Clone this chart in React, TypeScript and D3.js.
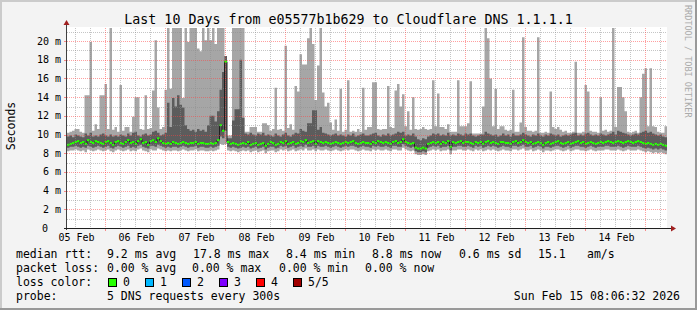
import React from 'react';
import * as d3 from 'd3';

// ---- data (hourly samples, ms) ----
const hi = [
  10.2, 10.3, 10.4, 10.6, 10.6, 10.3, 10.2, 14.2, 14.2, 19.9, 10.4, 11.1, 10.6, 14.2, 14.2, 15.4, 10.6, 21.4, 10.5, 10.8,
  10.3, 15.3, 10.4, 10.8, 10.8, 10.3, 11.9, 14.0, 14.0, 10.6, 10.5, 14.2, 10.6, 10.7, 14.7, 20.1, 12.9, 10.6, 10.8, 14.8,
  21.4, 14.9, 21.4, 21.4, 21.4, 21.4, 13.9, 21.4, 19.9, 21.4, 21.4, 21.4, 19.2, 18.9, 21.4, 20.1, 21.4, 20.1, 21.4, 19.7,
  21.4, 21.4, 21.4, 18.4, 9.9, 9.9, 21.4, 21.4, 21.4, 21.4, 21.4, 10.3, 10.3, 10.8, 10.8, 10.8, 10.3, 10.3, 11.2, 11.2,
  11.0, 10.4, 10.6, 15.0, 10.5, 10.6, 10.4, 19.5, 10.7, 11.1, 10.5, 15.2, 14.6, 18.6, 17.5, 17.5, 20.3, 21.4, 19.7, 13.7,
  17.4, 21.4, 14.5, 13.0, 13.4, 11.3, 10.5, 11.6, 10.4, 14.9, 10.3, 10.5, 15.8, 10.3, 10.4, 10.3, 10.6, 10.3, 15.0, 10.5,
  10.8, 10.8, 15.6, 15.6, 10.6, 10.5, 10.6, 10.6, 15.2, 10.8, 10.7, 14.7, 15.4, 13.0, 14.3, 10.9, 12.5, 10.5, 14.0, 10.6,
  10.5, 10.6, 10.8, 10.6, 10.5, 10.6, 15.8, 10.9, 14.4, 10.8, 10.8, 10.6, 11.1, 10.3, 10.3, 10.3, 15.8, 10.9, 10.9, 10.9,
  11.2, 15.7, 10.1, 10.1, 10.1, 10.1, 13.0, 21.4, 20.3, 16.0, 10.9, 14.9, 10.6, 10.9, 10.9, 10.5, 10.4, 10.5, 14.8, 10.3,
  10.3, 11.3, 20.4, 10.8, 10.4, 10.4, 10.3, 10.4, 20.4, 10.2, 10.2, 10.3, 10.2, 14.6, 10.8, 10.6, 10.8, 10.5, 10.3, 10.4,
  10.2, 10.2, 10.3, 17.8, 10.2, 10.2, 10.3, 15.3, 14.6, 10.4, 10.3, 10.3, 10.2, 14.0, 10.4, 10.5, 10.3, 10.4, 21.4, 10.8,
  15.1, 15.1, 14.0, 12.5, 10.3, 10.2, 10.3, 10.4, 10.2, 14.0, 16.5, 17.1, 10.9, 17.1, 10.9, 10.8, 10.3, 10.2, 10.2, 10.9,
];
const q3 = [
  9.8, 9.9, 9.7, 10.0, 9.9, 9.8, 9.7, 10.1, 9.9, 10.2, 9.8, 9.9, 9.8, 10.0, 10.1, 9.9, 9.8, 10.0, 9.8, 9.9,
  9.8, 10.0, 9.9, 9.8, 10.1, 9.9, 10.2, 10.3, 9.9, 9.8, 10.0, 10.1, 9.9, 10.0, 10.3, 10.4, 10.2, 9.9, 10.0, 10.2,
  13.4, 10.8, 13.9, 13.0, 14.2, 13.2, 12.9, 11.0, 10.6, 10.4, 10.5, 10.3, 10.6, 10.4, 10.5, 10.3, 11.0, 12.0, 12.0, 11.4,
  12.5, 14.8, 16.7, 18.4, 9.6, 9.6, 11.5, 12.7, 12.7, 18.0, 11.8, 10.1, 10.0, 10.2, 10.0, 9.9, 10.1, 10.0, 10.2, 9.9,
  10.0, 9.9, 9.8, 10.1, 9.9, 9.8, 10.0, 10.2, 9.9, 9.8, 10.0, 10.2, 10.1, 10.6, 10.4, 10.3, 11.2, 11.2, 12.6, 12.6,
  10.5, 10.8, 10.2, 10.1, 10.0, 9.9, 10.0, 10.1, 9.9, 10.0, 9.9, 9.8, 10.0, 9.9, 10.1, 9.8, 9.9, 10.0, 10.1, 9.9,
  9.9, 10.0, 10.1, 10.2, 9.9, 9.8, 10.0, 9.9, 10.1, 9.9, 10.0, 10.1, 10.3, 10.2, 10.3, 9.9, 10.0, 9.9, 10.1, 9.8,
  9.5, 9.4, 9.6, 9.5, 9.8, 9.9, 10.1, 10.0, 10.1, 9.9, 10.0, 9.9, 10.2, 9.9, 10.0, 9.9, 10.1, 10.0, 9.9, 10.1,
  10.0, 10.1, 9.9, 9.8, 9.9, 10.0, 10.0, 10.3, 10.1, 10.0, 9.9, 10.0, 9.8, 9.9, 10.1, 9.9, 10.0, 9.8, 10.1, 9.9,
  9.9, 10.0, 10.2, 10.0, 9.9, 9.8, 10.0, 9.9, 10.1, 9.9, 9.8, 10.0, 9.9, 10.1, 10.0, 9.9, 10.0, 9.8, 9.9, 10.0,
  9.9, 10.0, 10.1, 10.2, 9.9, 10.0, 9.9, 10.1, 10.2, 10.0, 9.9, 10.0, 9.9, 10.1, 10.0, 9.9, 10.0, 10.1, 10.3, 10.0,
  10.4, 10.3, 10.2, 10.1, 10.0, 9.9, 10.0, 10.1, 10.0, 10.2, 10.3, 10.4, 10.2, 10.3, 10.1, 10.0, 9.9, 10.0, 9.8, 9.7,
];
const med = [
  8.9, 9.0, 9.1, 9.2, 9.3, 9.1, 9.2, 9.0, 9.4, 9.2, 9.1, 9.3, 9.2, 9.1, 9.0, 9.2, 9.3, 9.1, 8.9, 9.2,
  9.3, 9.1, 9.0, 9.2, 9.4, 9.1, 9.2, 9.0, 9.3, 9.5, 9.1, 9.2, 8.9, 9.3, 9.4, 9.2, 9.6, 9.3, 9.1, 9.0,
  9.1, 9.0, 9.2, 9.1, 9.0, 9.1, 9.2, 9.1, 9.0, 9.1, 9.1, 9.2, 9.0, 9.1, 9.1, 9.0, 9.0, 9.1, 9.0, 9.1,
  9.4, 11.0, 10.4, 17.8, 9.2, 9.0, 9.1, 9.0, 8.9, 9.0, 9.1, 9.0, 9.2, 8.9, 9.0, 9.1, 8.9, 9.0, 9.1, 8.8,
  9.0, 9.2, 9.1, 8.9, 9.0, 9.2, 9.1, 9.3, 9.0, 9.1, 9.2, 9.0, 9.1, 9.3, 9.2, 9.4, 9.1, 9.2, 9.3, 9.0,
  9.3, 9.2, 9.1, 9.2, 9.1, 9.0, 9.1, 9.2, 9.1, 9.0, 9.1, 9.2, 9.1, 9.2, 9.3, 9.1, 9.0, 9.1, 9.2, 9.1,
  9.1, 9.0, 9.2, 9.1, 9.3, 9.2, 9.1, 9.2, 9.1, 9.0, 9.2, 9.3, 9.1, 9.2, 9.5, 9.2, 9.1, 9.0, 9.1, 8.6,
  8.5, 8.5, 8.6, 8.5, 9.0, 9.1, 9.2, 9.1, 9.2, 9.0, 9.2, 9.1, 9.3, 8.7, 9.2, 9.1, 9.2, 9.3, 9.1, 9.2,
  9.2, 9.1, 9.0, 9.2, 9.1, 9.2, 9.0, 9.2, 9.3, 9.1, 9.2, 9.1, 9.0, 9.2, 9.2, 9.1, 9.1, 9.0, 9.2, 9.3,
  9.1, 9.2, 9.4, 9.2, 9.1, 9.2, 9.0, 9.1, 9.2, 9.1, 8.9, 9.1, 9.2, 9.0, 9.1, 9.2, 9.3, 9.1, 9.0, 9.1,
  9.2, 9.0, 9.1, 9.2, 9.3, 9.1, 9.2, 9.0, 9.1, 9.2, 9.1, 9.0, 9.1, 9.2, 9.1, 9.2, 9.3, 9.2, 9.1, 9.2,
  9.3, 9.2, 9.1, 9.2, 9.3, 9.2, 9.1, 9.2, 9.3, 9.2, 9.1, 9.0, 9.1, 9.0, 8.9, 9.0, 8.9, 9.0, 8.9, 8.8,
];
const q1 = [
  8.6, 8.7, 8.7, 8.8, 8.7, 8.6, 8.7, 8.6, 8.8, 8.7, 8.6, 8.7, 8.8, 8.7, 8.6, 8.7, 8.8, 8.6, 8.5, 8.7,
  8.8, 8.7, 8.6, 8.7, 8.8, 8.6, 8.7, 8.6, 8.8, 8.9, 8.7, 8.6, 8.5, 8.8, 8.8, 8.7, 8.9, 8.8, 8.7, 8.6,
  8.7, 8.6, 8.7, 8.7, 8.6, 8.7, 8.8, 8.7, 8.6, 8.7, 8.7, 8.8, 8.6, 8.7, 8.7, 8.6, 8.6, 8.7, 8.6, 8.7,
  8.8, 9.8, 9.6, 10.4, 8.7, 8.6, 8.7, 8.6, 8.5, 8.6, 8.7, 8.6, 8.7, 8.5, 8.6, 8.7, 8.5, 8.6, 8.7, 8.4,
  8.6, 8.7, 8.7, 8.5, 8.6, 8.8, 8.7, 8.8, 8.6, 8.7, 8.8, 8.6, 8.7, 8.8, 8.7, 8.9, 8.7, 8.7, 8.8, 8.6,
  8.8, 8.7, 8.7, 8.8, 8.7, 8.6, 8.7, 8.8, 8.7, 8.6, 8.7, 8.8, 8.7, 8.8, 8.8, 8.7, 8.6, 8.7, 8.8, 8.7,
  8.7, 8.6, 8.8, 8.7, 8.8, 8.7, 8.7, 8.8, 8.7, 8.6, 8.8, 8.8, 8.7, 8.7, 9.0, 8.8, 8.7, 8.6, 8.7, 8.2,
  8.1, 8.1, 8.2, 8.1, 8.6, 8.7, 8.8, 8.7, 8.8, 8.6, 8.7, 8.7, 8.8, 8.3, 8.7, 8.7, 8.8, 8.8, 8.7, 8.7,
  8.8, 8.7, 8.6, 8.8, 8.7, 8.8, 8.6, 8.7, 8.8, 8.7, 8.8, 8.7, 8.6, 8.7, 8.8, 8.7, 8.7, 8.6, 8.8, 8.8,
  8.7, 8.8, 8.9, 8.7, 8.7, 8.8, 8.6, 8.7, 8.8, 8.7, 8.5, 8.7, 8.7, 8.6, 8.7, 8.8, 8.8, 8.7, 8.6, 8.7,
  8.8, 8.6, 8.7, 8.8, 8.8, 8.7, 8.7, 8.6, 8.7, 8.8, 8.7, 8.6, 8.7, 8.7, 8.7, 8.8, 8.8, 8.7, 8.7, 8.7,
  8.8, 8.7, 8.6, 8.7, 8.8, 8.7, 8.7, 8.7, 8.8, 8.7, 8.6, 8.5, 8.6, 8.5, 8.4, 8.5, 8.4, 8.5, 8.4, 8.3,
];
const lo = [
  8.2, 8.3, 8.3, 8.4, 8.3, 8.2, 8.3, 8.1, 8.4, 8.3, 8.2, 8.3, 8.4, 8.3, 8.2, 8.3, 8.4, 8.2, 8.1, 8.3,
  8.4, 8.3, 8.2, 8.3, 8.4, 8.2, 8.3, 8.2, 8.4, 8.5, 8.3, 8.2, 8.1, 8.4, 8.3, 8.3, 8.5, 8.4, 8.3, 8.2,
  8.3, 8.2, 8.3, 8.3, 8.2, 8.3, 8.4, 8.3, 8.2, 8.3, 8.3, 8.4, 8.2, 8.3, 8.3, 8.2, 8.2, 8.3, 8.2, 8.3,
  8.4, 9.0, 8.9, 9.0, 8.3, 8.2, 8.3, 8.2, 8.1, 8.2, 8.3, 8.2, 8.3, 8.1, 8.2, 8.3, 8.1, 8.2, 8.3, 8.0,
  8.2, 8.3, 8.3, 8.1, 8.2, 8.4, 8.3, 8.4, 8.2, 8.3, 8.4, 8.2, 8.3, 8.4, 8.3, 8.5, 8.3, 8.3, 8.4, 8.2,
  8.4, 8.3, 8.3, 8.4, 8.3, 8.2, 8.3, 8.4, 8.3, 8.2, 8.3, 8.4, 8.3, 8.4, 8.4, 8.3, 8.2, 8.3, 8.4, 8.3,
  8.3, 8.2, 8.4, 8.3, 8.4, 8.3, 8.3, 8.4, 8.3, 8.2, 8.4, 8.4, 8.3, 8.3, 8.6, 8.4, 8.3, 8.2, 8.3, 7.9,
  7.8, 7.8, 7.9, 7.8, 8.2, 8.3, 8.4, 8.3, 8.4, 8.2, 8.3, 8.3, 8.4, 7.9, 8.3, 8.3, 8.4, 8.4, 8.3, 8.3,
  8.4, 8.3, 8.2, 8.4, 8.3, 8.4, 8.2, 8.3, 8.4, 8.3, 8.4, 8.3, 8.2, 8.3, 8.4, 8.3, 8.3, 8.2, 8.4, 8.4,
  8.3, 8.4, 8.5, 8.3, 8.3, 8.4, 8.2, 8.3, 8.4, 8.3, 8.1, 8.3, 8.3, 8.2, 8.3, 8.4, 8.4, 8.3, 8.2, 8.3,
  8.4, 8.2, 8.3, 8.4, 8.4, 8.3, 8.3, 8.2, 8.3, 8.4, 8.3, 8.2, 8.3, 8.3, 8.3, 8.4, 8.4, 8.3, 8.3, 8.3,
  8.4, 8.3, 8.2, 8.3, 8.4, 8.3, 8.3, 8.3, 8.4, 8.3, 8.2, 8.1, 8.2, 8.1, 8.0, 8.1, 8.0, 8.1, 8.0, 7.9,
];

const yTickValues = [0, 2, 4, 6, 8, 10, 12, 14, 16, 18, 20];
const titleText = 'Last 10 Days from e05577b1b629 to Cloudflare DNS 1.1.1.1';
const rttLegend = ['median rtt:', '9.2 ms avg', '17.8 ms max', '8.4 ms min', '8.8 ms now', '0.6 ms sd', '15.1', 'am/s'];
const lossLegend = ['packet loss:', '0.00 % avg', '0.00 % max', '0.00 % min', '0.00 % now'];
const lossLabels = ['0', '1', '2', '3', '4', '5/5'];
const lossColors = ['#26ff00', '#00b8ff', '#0059ff', '#7e00ff', '#ff0000', '#a10000'];
const probeLegend = ['probe:', '5 DNS requests every 300s', 'Sun Feb 15 08:06:32 2026'];

const HOUR = 3600 * 1000;
const START = Date.UTC(2026, 1, 5, 8, 48, 0);

export default function App() {
  const W = 697, H = 310;
  const L = 67, R = 667, T = 28, B = 228;
  const n = hi.length;
  const x = d3.scaleUtc().domain([new Date(START), new Date(START + n * HOUR)]).range([L, R]);
  const y = d3.scaleLinear().domain([0, 21.4]).range([B, T]);

  const pts = hi.map((h, i) => ({ t: new Date(START + i * HOUR), hi: h, q3: q3[i], med: med[i], q1: q1[i], lo: lo[i] }));
  const ext = [...pts, { ...pts[n - 1], t: new Date(START + n * HOUR) }];

  const outer = d3.area<any>().curve(d3.curveStepAfter).x(d => x(d.t)).y0(d => y(d.lo)).y1(d => y(d.hi))(ext) || '';
  const inner = d3.area<any>().curve(d3.curveStepAfter).x(d => x(d.t)).y0(d => y(d.q1)).y1(d => y(d.q3))(ext) || '';
  const medLine = d3.line<any>().curve(d3.curveStepAfter).x(d => x(d.t)).y(d => y(d.med))(ext) || '';

  const domain = x.domain();
  const majors = d3.utcDay.range(domain[0], domain[1]);
  const minors = d3.utcHour.every(6)!.range(domain[0], domain[1]).filter(t => t.getUTCHours() !== 0);
  const labelDays = d3.utcDay.range(d3.utcDay.floor(domain[0]), domain[1]).map(d => new Date(+d + 12 * HOUR)).filter(d => d >= domain[0] && d < domain[1]);
  const fmt = d3.utcFormat('%d %b');

  const yMinor = d3.range(1, 22, 2);
  const yMajor = yTickValues.filter(v => v > 0);

  const rttX = [16, 107, 193, 286, 372, 459, 538, 587];
  const lossX = [16, 107, 192, 279, 365];
  const boxX = [108, 145, 182, 219, 256, 293];

  const mono = "'DejaVu Sans Mono', monospace";

  return (
    <svg width={W} height={H} style={{ position: 'absolute', left: 0, top: 0, display: 'block' }} fontFamily={mono}>
      <defs>
        <clipPath id="plotclip">
          <rect x={L} y={T} width={R - L} height={B - T} />
        </clipPath>
      </defs>
      <rect x={0} y={0} width={W} height={H} fill="#f3f3f3" />
      {/* 3D border */}
      <path d={`M0,0 H${W} V2 H2 V${H} H0 Z`} fill="#cbcbcb" />
      <path d={`M${W},0 V${H} H0 V${H - 2} H${W - 2} V0 Z`} fill="#999999" />

      {/* canvas */}
      <rect x={L} y={T - 1} width={R - L} height={B - T + 1} fill="#ffffff" />

      <g clipPath="url(#plotclip)">
        <path d={outer} fill="#a6a6a6" />
        <path d={inner} fill="#5c5c5c" />
        <path d={medLine} fill="none" stroke="#202020" strokeWidth={1} />
        {pts.map((d, i) => (
          <rect key={i} x={x(d.t)} y={y(d.med) - 1} width={x(new Date(+d.t + HOUR)) - x(d.t)} height={2} fill={lossColors[0]} />
        ))}
      </g>

      {/* grid */}
      <g shapeRendering="crispEdges" strokeDasharray="1,1" fill="none">
        {yMinor.map(v => (
          <line key={'ym' + v} x1={L} x2={R} y1={Math.round(y(v)) + 0.5} y2={Math.round(y(v)) + 0.5} stroke="rgba(140,140,140,0.5)" />
        ))}
        {minors.map(t => (
          <line key={'xm' + +t} x1={Math.round(x(t)) + 0.5} x2={Math.round(x(t)) + 0.5} y1={T} y2={B} stroke="rgba(140,140,140,0.5)" />
        ))}
        {yMajor.map(v => (
          <line key={'yM' + v} x1={L} x2={R} y1={Math.round(y(v)) + 0.5} y2={Math.round(y(v)) + 0.5} stroke="rgba(255,64,64,0.5)" />
        ))}
        {majors.map(t => (
          <line key={'xM' + +t} x1={Math.round(x(t)) + 0.5} x2={Math.round(x(t)) + 0.5} y1={T} y2={B} stroke="rgba(255,64,64,0.5)" />
        ))}
      </g>

      {/* ticks */}
      <g shapeRendering="crispEdges">
        {yMajor.map(v => (
          <line key={'yt' + v} x1={L - 3} x2={L} y1={Math.round(y(v)) + 0.5} y2={Math.round(y(v)) + 0.5} stroke="rgba(255,64,64,0.6)" />
        ))}
        {majors.map(t => (
          <line key={'xt' + +t} x1={Math.round(x(t)) + 0.5} x2={Math.round(x(t)) + 0.5} y1={B} y2={B + 3} stroke="rgba(255,64,64,0.6)" />
        ))}
      </g>

      {/* axes */}
      <g shapeRendering="crispEdges">
        <line x1={L - 0.5} x2={L - 0.5} y1={B + 2} y2={T - 5} stroke="#404040" />
        <line x1={L - 3} x2={R + 5} y1={B + 0.5} y2={B + 0.5} stroke="#202020" />
      </g>
      <path d={`M${L - 3.5},${T - 3} L${L - 0.5},${T - 8} L${L + 2.5},${T - 3} Z`} fill="#a02020" />
      <path d={`M${R + 4},${B - 2.5} L${R + 9},${B + 0.5} L${R + 4},${B + 3.5} Z`} fill="#a02020" />

      {/* y labels */}
      {yTickValues.map(v => (
        <text key={'yl' + v} x={v === 0 ? 48 : 61} y={y(v) + 3.5} fontSize={10} textAnchor="end" fill="#000">
          {v === 0 ? '0' : `${v} m`}
        </text>
      ))}
      {/* x labels */}
      {labelDays.map(t => (
        <text key={'xl' + +t} x={x(t) + 1.5} y={241} fontSize={10} textAnchor="middle" fill="#000">
          {fmt(t)}
        </text>
      ))}

      {/* titles */}
      <text x={348.5} y={24} fontSize={13.3} textAnchor="middle" fill="#000">{titleText}</text>
      <text transform={`translate(14.5,126) rotate(-90)`} fontSize={11.5} textAnchor="middle" fill="#000">Seconds</text>
      <text transform={`translate(685,5) rotate(90)`} fontSize={8.5} fill="#aaaaaa">RRDTOOL / TOBI OETIKER</text>

      {/* legend */}
      <g fontSize={11.5} fill="#000" style={{ whiteSpace: 'pre' }}>
        {rttLegend.map((s, i) => (
          <text key={'r' + i} x={rttX[i]} y={258}>{s}</text>
        ))}
        {lossLegend.map((s, i) => (
          <text key={'l' + i} x={lossX[i]} y={272}>{s}</text>
        ))}
        <text x={16} y={286}>loss color:</text>
        {lossLabels.map((s, i) => (
          <g key={'c' + i}>
            <rect x={boxX[i] + 0.5} y={278.5} width={8} height={8} fill={lossColors[i]} stroke="#000" strokeWidth={1} shapeRendering="crispEdges" />
            <text x={boxX[i] + 15} y={286}>{s}</text>
          </g>
        ))}
        <text x={16} y={300}>{probeLegend[0]}</text>
        <text x={107} y={300}>{probeLegend[1]}</text>
        <text x={680} y={300} textAnchor="end">{probeLegend[2]}</text>
      </g>
    </svg>
  );
}
